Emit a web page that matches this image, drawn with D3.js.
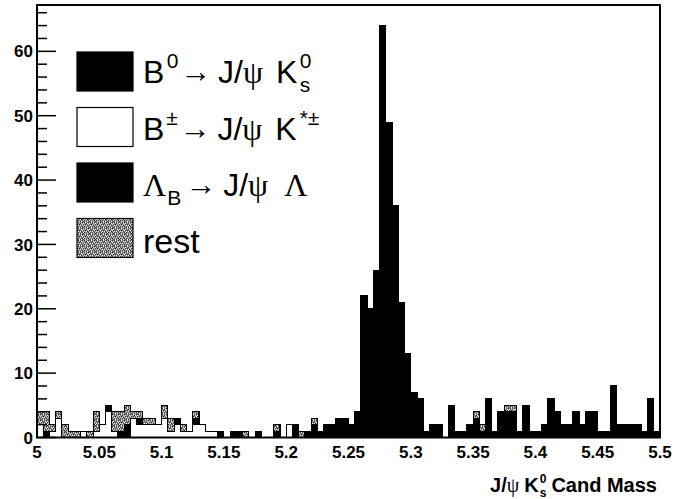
<!DOCTYPE html>
<html>
<head>
<meta charset="utf-8">
<script src="https://cdn.jsdelivr.net/npm/d3@7"></script>
<style>
  html, body { margin: 0; padding: 0; background: #fff; }
  svg { display: block; }
</style>
</head>
<body>
<svg id="chart" width="676" height="499"></svg>
<script>
// Binning of the candidate mass histogram (GeV)
const massMin = 5.0;
const massMax = 5.5;
const nBins = 100;

// Per-bin candidate counts for each contribution
const sigB0 = [
  0,1,0,0,0,0,0,0,0,0, 0,0,0,1,1,0,0,0,0,0,
  0,0,0,0,0,0,0,0,0,1, 0,1,1,0,0,1,0,0,1,0,
  0,2,0,1,2,1,2,2,3,3, 2,4,22,20,26,64,49,36,21,13,
  7,6,1,2,2,0,5,1,1,2, 3,1,6,1,4,4,4,1,5,1,
  1,2,6,4,2,2,4,2,4,4, 1,1,8,2,2,2,2,1,6,1
];
const bkgBpm = [
  2,0,1,3,0,0,0,1,0,1, 2,4,1,0,0,3,2,2,2,2,
  3,1,2,1,1,2,2,1,1,0, 0,0,0,0,0,0,0,0,0,0,
  2,0,0,0,0,0,0,0,0,0, 0,0,0,0,0,0,0,0,0,0,
  0,0,0,0,0,0,0,0,0,0, 0,0,0,0,0,0,0,0,0,0,
  0,0,0,0,0,0,0,0,0,0, 0,0,0,0,0,0,0,0,0,0
];
const bkgLambdaB = [
  0,0,0,0,0,0,0,0,0,0, 0,1,0,0,1,0,1,0,0,0,
  0,0,1,0,0,1,0,0,0,0, 0,0,0,0,0,0,0,0,0,0,
  0,0,0,0,0,0,0,0,0,0, 0,0,0,0,0,0,0,0,0,0,
  0,0,0,0,0,0,0,0,0,0, 0,0,0,0,0,0,0,0,0,0,
  0,0,0,0,0,0,0,0,0,0, 0,0,0,0,0,0,0,0,0,0
];
const bkgRest = [
  2,3,1,1,2,1,1,0,1,3, 0,0,3,3,3,1,1,1,1,0,
  2,2,0,1,0,1,0,0,0,0, 0,0,0,1,0,0,0,0,1,0,
  0,0,1,0,1,0,0,0,0,0, 0,0,0,0,0,0,0,0,0,0,
  0,0,0,0,0,0,0,0,0,0, 1,1,0,0,0,1,1,0,0,0,
  0,0,0,0,0,0,0,0,0,0, 0,0,0,0,0,0,0,0,0,0
];

const yTickValues = [0, 10, 20, 30, 40, 50, 60];
const xTickValues = [5, 5.05, 5.1, 5.15, 5.2, 5.25, 5.3, 5.35, 5.4, 5.45, 5.5];
const xTickLabels = ["5", "5.05", "5.1", "5.15", "5.2", "5.25", "5.3", "5.35", "5.4", "5.45", "5.5"];
const yMax = 67.2;

const svg = d3.select("#chart");
const frame = { left: 37, right: 660, top: 5, bottom: 437.5 };

const x = d3.scaleLinear().domain([massMin, massMax]).range([frame.left, frame.right]);
const y = d3.scaleLinear().domain([0, yMax]).range([frame.bottom, frame.top]);

// Stipple fill used for the "rest" component
const defs = svg.append("defs");
const pat = defs.append("pattern")
  .attr("id", "stipple").attr("patternUnits", "userSpaceOnUse")
  .attr("width", 6).attr("height", 6);
pat.append("rect").attr("width", 6).attr("height", 6).attr("fill", "#8a8a8a");
const darkDots = [[0,0],[2,1],[4,0],[1,2],[5,2],[3,3],[0,4],[2,5],[4,4],[5,5]];
const lightDots = [[1,0],[3,1],[5,1],[0,3],[4,2],[2,3],[1,5],[3,5],[5,4]];
darkDots.forEach(([i, j]) => pat.append("rect").attr("x", i).attr("y", j).attr("width", 1).attr("height", 1).attr("fill", "#333"));
lightDots.forEach(([i, j]) => pat.append("rect").attr("x", i).attr("y", j).attr("width", 1).attr("height", 1).attr("fill", "#e6e6e6"));

// Cumulative stack: B0 at bottom, then B±, ΛB, rest
const binWidth = (massMax - massMin) / nBins;
const cum1 = sigB0.slice();
const cum2 = cum1.map((v, i) => v + bkgBpm[i]);
const cum3 = cum2.map((v, i) => v + bkgLambdaB[i]);
const cum4 = cum3.map((v, i) => v + bkgRest[i]);

function stepPoints(values) {
  const pts = values.map((v, i) => ({ m: massMin + i * binWidth, v }));
  pts.push({ m: massMax, v: values[values.length - 1] });
  return pts;
}
const area = d3.area()
  .x(d => x(d.m)).y0(y(0)).y1(d => y(d.v))
  .curve(d3.curveStepAfter);

const layers = [
  { values: cum4, fill: "url(#stipple)" },
  { values: cum3, fill: "#000" },
  { values: cum2, fill: "#fff" },
  { values: cum1, fill: "#000" }
];
const gHist = svg.append("g");
layers.forEach(l => {
  gHist.append("path")
    .attr("d", area(stepPoints(l.values)))
    .attr("fill", l.fill)
    .attr("stroke", "#000")
    .attr("stroke-width", 1.1)
    .attr("shape-rendering", "crispEdges");
});

// Frame
svg.append("rect")
  .attr("x", frame.left).attr("y", frame.top)
  .attr("width", frame.right - frame.left).attr("height", frame.bottom - frame.top)
  .attr("fill", "none").attr("stroke", "#000").attr("stroke-width", 2);

// Y axis ticks (pointing into the frame)
const gy = svg.append("g");
d3.range(0, 67, 2).forEach(v => {
  const major = v % 10 === 0;
  gy.append("line")
    .attr("x1", frame.left).attr("x2", frame.left + (major ? 19 : 10))
    .attr("y1", y(v)).attr("y2", y(v))
    .attr("stroke", "#000").attr("stroke-width", 1.5);
});
gy.selectAll("text.ylab").data(yTickValues).join("text")
  .attr("class", "ylab")
  .attr("x", frame.left - 4).attr("y", d => y(d))
  .attr("dy", "0.36em")
  .attr("text-anchor", "end")
  .attr("font-family", "Liberation Sans, Arial, sans-serif")
  .attr("font-weight", "bold").attr("font-size", 17)
  .text(d => d);

// X axis labels
svg.selectAll("text.xlab").data(xTickValues).join("text")
  .attr("class", "xlab")
  .attr("x", d => x(d)).attr("y", 457.5)
  .attr("text-anchor", "middle")
  .attr("font-family", "Liberation Sans, Arial, sans-serif")
  .attr("font-weight", "bold").attr("font-size", 17)
  .text((d, i) => xTickLabels[i]);

// Rich text helper: lays out pieces left to right, returns total width
const sans = "Liberation Sans, Arial, sans-serif";
const serif = "Liberation Serif, DejaVu Serif, serif";
function richText(g, x0, baseline, pieces) {
  let cx = x0;
  pieces.forEach(p => {
    if (p.gap) { cx += p.gap; return; }
    const parts = p.stack ? p.stack : [p];
    let w = 0;
    parts.forEach(q => {
      const t = g.append("text")
        .attr("x", cx).attr("y", baseline + (q.dy || 0))
        .attr("font-family", q.font || sans)
        .attr("font-size", q.size)
        .attr("font-weight", q.weight || "normal")
        .text(q.t);
      if (q.len) t.attr("textLength", q.len).attr("lengthAdjust", "spacingAndGlyphs");
      w = Math.max(w, q.len || t.node().getComputedTextLength());
    });
    cx += w;
  });
  return cx - x0;
}

// Legend
const fs = 32, fss = 21;
const legendItems = [
  { fill: "#000", pieces: [
    { t: "B", size: fs }, { gap: 2.5 }, { t: "0", size: fss, dy: -15 }, { gap: 1.5 },
    { t: "\u2192", size: fs, font: serif, len: 31, dy: -1 }, { gap: 7 },
    { t: "J/", size: fs }, { t: "\u03c8", size: fs, font: serif }, { gap: 13 },
    { t: "K", size: fs }, { gap: 2.5 },
    { stack: [{ t: "0", size: fss, dy: -15 }, { t: "s", size: fss, dy: 8.5 }] }
  ]},
  { fill: "#fff", pieces: [
    { t: "B", size: fs }, { gap: 2 }, { t: "\u00b1", size: fss, dy: -15 }, { gap: 1.5 },
    { t: "\u2192", size: fs, font: serif, len: 31, dy: -1 }, { gap: 7 },
    { t: "J/", size: fs }, { t: "\u03c8", size: fs, font: serif }, { gap: 13 },
    { t: "K", size: fs }, { gap: 3 }, { t: "*\u00b1", size: fss, dy: -15 }
  ]},
  { fill: "#000", pieces: [
    { t: "\u039b", size: fs, font: serif }, { gap: 1 }, { t: "B", size: fss, dy: 8.5 }, { gap: 4 },
    { t: "\u2192", size: fs, font: serif, len: 31, dy: -1 }, { gap: 7 },
    { t: "J/", size: fs }, { t: "\u03c8", size: fs, font: serif }, { gap: 16 },
    { t: "\u039b", size: fs, font: serif }
  ]},
  { fill: "url(#stipple)", pieces: [ { t: "rest", size: fs + 2 } ] }
];
const gLeg = svg.append("g");
legendItems.forEach((it, i) => {
  const top = 52 + i * 55.5;
  gLeg.append("rect")
    .attr("x", 77).attr("y", top).attr("width", 56).attr("height", 39)
    .attr("fill", it.fill).attr("stroke", "#000").attr("stroke-width", 1.2);
  richText(gLeg, 143, 83.3 + i * 56.5, it.pieces);
});

// X axis title, right-aligned to the end of the axis
const gTitle = svg.append("g");
const tw = richText(gTitle, 0, 492, [
  { t: "J/", size: 20, weight: "bold" }, { t: "\u03c8", size: 20, font: serif }, { gap: 5 },
  { t: "K", size: 20, weight: "bold" }, { gap: 1 },
  { stack: [{ t: "0", size: 12, weight: "bold", dy: -9 }, { t: "s", size: 12, weight: "bold", dy: 5 }] },
  { gap: 5 },
  { t: "Cand Mass", size: 20, weight: "bold" }
]);
gTitle.attr("transform", `translate(${657 - tw},0)`);
</script>
</body>
</html>
